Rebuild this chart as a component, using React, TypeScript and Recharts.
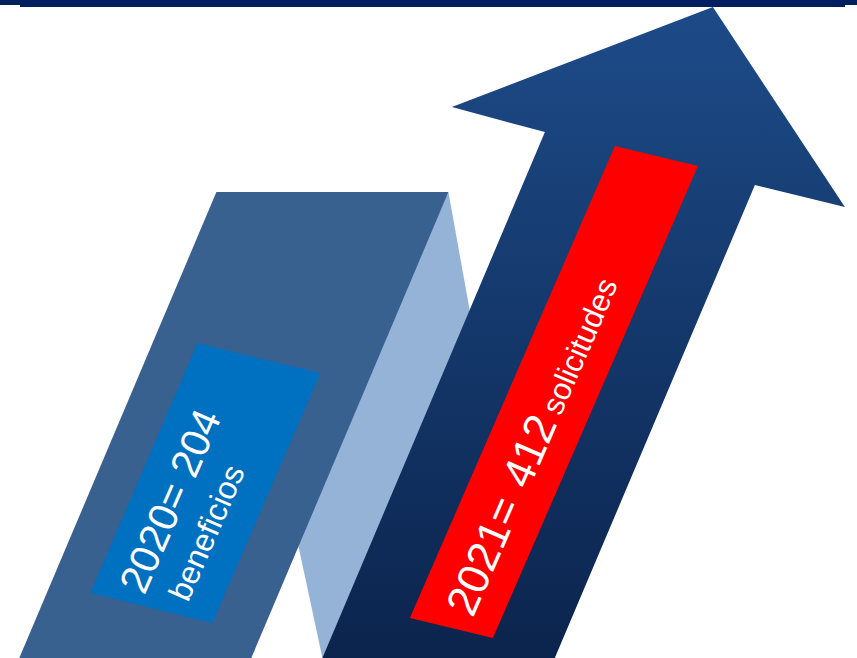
import { BarChart, Bar, XAxis, YAxis } from 'recharts'

const years = ['2020', '2021']
const values = [204, 412]
const units = ['beneficios', 'solicitudes']

const W = 857
const H = 658
const LEAN = 0.423 // horizontal drift of the ribbons per px going down
const FONT = '"Liberation Sans", Arial, sans-serif'

const data = years.map((year, i) => ({ year, value: values[i], unit: units[i] }))

const pts = (p: number[][]) => p.map(([a, b]) => `${a.toFixed(1)},${b.toFixed(1)}`).join(' ')

function Ribbon(props: any) {
  const { x, y, width, payload, index } = props
  const cx = x + width / 2

  if (index === 0) {
    // folded ribbon, top edge sits on the value
    const ax = cx + 118
    const ay = y
    const shift = LEAN * (H - ay)
    return (
      <g>
        <polygon
          fill="#95b3d7"
          points={pts([[ax + 116, ay], [ax + 200, H], [ax - 10, H], [ax - 40, H - 140]])}
        />
        <polygon
          fill="#38618f"
          points={pts([[ax - 116, ay], [ax + 116, ay], [ax + 116 - shift, H], [ax - 116 - shift, H]])}
        />
        <polygon
          fill="#0070c0"
          points={pts([[ax - 135, ay + 151], [ax - 12, ay + 181], [ax - 120, ay + 431], [ax - 242, ay + 401]])}
        />
        <g transform={`translate(${ax - 127},${ay + 291}) rotate(-66.5)`} fontFamily={FONT} fill="#fff">
          <text x={-128} y={-11} fontSize={41}>{`${payload.year}= ${payload.value}`}</text>
          <text x={-117} y={32} fontSize={32}>{payload.unit}</text>
        </g>
      </g>
    )
  }

  // arrow, tip sits on the value
  const ax = cx + 70
  const ay = y
  const gid = 'arrowFill'
  return (
    <g>
      <defs>
        <linearGradient id={gid} gradientUnits="userSpaceOnUse" x1={0} y1={ay} x2={0} y2={H}>
          <stop offset="0%" stopColor="#1d4b88" />
          <stop offset="100%" stopColor="#0b244d" />
        </linearGradient>
      </defs>
      <polygon
        fill={`url(#${gid})`}
        points={pts([
          [ax, ay],
          [ax + 132, ay + 200],
          [ax + 42, ay + 178],
          [ax + 42 - LEAN * (H - ay - 178), H],
          [ax - 168 - LEAN * (H - ay - 125), H],
          [ax - 168, ay + 125],
          [ax - 261, ay + 100],
        ])}
      />
      <polygon
        fill="#ff0000"
        points={pts([[ax - 98, ay + 139], [ax - 15, ay + 159], [ax - 220, ay + 631], [ax - 303, ay + 611]])}
      />
      <g transform={`translate(${ax - 159},${ay + 385}) rotate(-66.5)`} fontFamily={FONT} fill="#fff">
        <text x={-240} y={16}>
          <tspan fontSize={44}>{`${payload.year}=`}</tspan>
          <tspan fontSize={44} dx={16}>{payload.value}</tspan>
          <tspan fontSize={31} dx={7}>{payload.unit}</tspan>
        </text>
      </g>
    </g>
  )
}

export default function App() {
  return (
    <div style={{ position: 'fixed', left: 0, top: 0, width: W, height: H, background: '#fff' }}>
      <BarChart width={W} height={H} data={data} margin={{ top: 0, right: 0, bottom: 0, left: 0 }}>
        <XAxis dataKey="year" hide />
        <YAxis hide domain={[-320, 420]} />
        <Bar dataKey="value" shape={Ribbon} isAnimationActive={false} />
      </BarChart>
      <div style={{ position: 'absolute', left: 0, top: 0, width: W, height: 5, background: '#001f5f' }} />
      <div style={{ position: 'absolute', left: 20, top: 0, width: 825, height: 6.5, background: '#001f5f' }} />
    </div>
  )
}
